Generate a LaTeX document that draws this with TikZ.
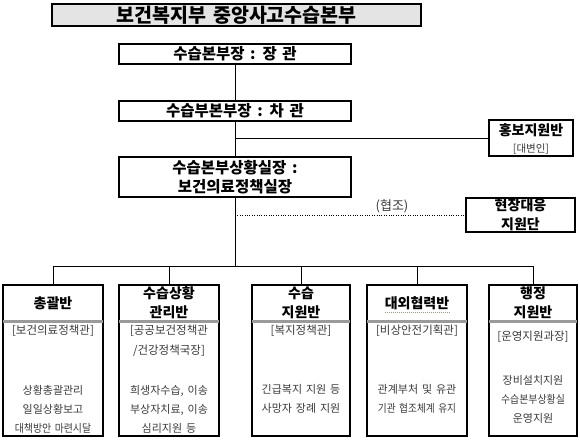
\documentclass[tikz,border=0pt]{standalone}
\usepackage{fontspec}
\setmainfont{Noto Sans CJK KR}[WordSpace=1.6]
\usetikzlibrary{calc}
\definecolor{subgray}{HTML}{3A3A3A}
\definecolor{titlefill}{HTML}{E4E4E4}
\definecolor{divgray}{HTML}{9A9A9A}
\begin{document}
\begin{tikzpicture}[x=1pt,y=-1pt,
  mainbox/.style={draw, line width=1.4pt, minimum width=232pt, minimum height=20pt, inner sep=0pt, font=\fontsize{15.5}{19}\selectfont\bfseries, align=center},
  sidebox/.style={draw, line width=1.4pt, inner sep=0pt, align=center},
  grpbox/.style={draw, line width=1.2pt, minimum height=151pt, inner sep=0pt},
  hdr/.style={inner sep=0pt, font=\fontsize{14}{19}\selectfont\bfseries, align=center},
  brk/.style={inner sep=0pt, text=subgray, font=\fontsize{11.5}{20}\selectfont, align=center},
  bodytxt/.style={inner sep=0pt, text=subgray, font=\fontsize{11}{19}\selectfont, align=center},
  conn/.style={line width=0.9pt},
  coop/.style={line width=0.7pt, dash pattern=on 0.8pt off 1.6pt},
  divider/.style={line width=3pt, divgray},
]
\useasboundingbox (0,0) rectangle (580,439);

% title
\node[draw, line width=1.6pt, fill=titlefill, minimum width=369pt, minimum height=22pt, inner sep=0pt,
      font=\fontsize{19.5}{20}\selectfont\bfseries] (title) at (236.5,15) {보건복지부 중앙사고수습본부};

% chain
\node[mainbox] (b1) at (235,54) {수습본부장 : 장 관};
\node[mainbox] (b2) at (235,111) {수습부본부장 : 차 관};
\node[mainbox, minimum height=40pt] (b3) at (235,177) {수습본부상황실장 :\\보건의료정책실장};

% side boxes
\node[sidebox, minimum width=84pt, minimum height=36pt] (hongbo) at (531,138) {};
\node[hdr] (hongboT) at (531,130) {홍보지원반};
\node[brk, font=\fontsize{10.5}{12}\selectfont] (hongboS) at (531,149) {[대변인]};

\node[sidebox, minimum width=109pt, minimum height=34pt] (hyun) at (520.5,215) {};
\node[hdr] (hyunT) at (520.5,215) {현장대응\\지원단};

\coordinate (hj) at (235,138);
\coordinate (dj) at (235,215);
\coordinate (bus) at (235,266);

\draw[conn] (b1) -- (b2);
\draw[conn] (b2) -- (b3);
\draw[conn] (b3.south) -- (bus);
\draw[conn] (hj) -- (hongbo.west);
\draw[coop] (dj) -- (hyun.west);
\node[inner sep=0pt, font=\fontsize{13}{15}\selectfont, text=subgray] (coopT) at (392,206) {(협조)};

% groups
\node[grpbox, minimum width=100pt] (g1) at (53,360.5) {};
\node[grpbox, minimum width=100pt] (g2) at (169,360.5) {};
\node[grpbox, minimum width=98pt] (g3) at (301,360.5) {};
\node[grpbox, minimum width=100pt] (g4) at (417,360.5) {};
\node[grpbox, minimum width=88pt] (g5) at (533,360.5) {};

\draw[conn] (g1.north) |- (bus);
\draw[conn] (g5.north) |- (bus);
\draw[conn] (g2.north) -- (g2.north |- bus);
\draw[conn] (g3.north) -- (g3.north |- bus);
\draw[conn] (g4.north) -- (g4.north |- bus);

\foreach \g in {g1,g2,g3,g4,g5}{
  \draw[divider] ([yshift=-37pt,xshift=0.6pt]\g.north west) -- ([yshift=-37pt,xshift=-0.6pt]\g.north east);
}

% headers
\node[hdr] (g1h) at (53,303) {총괄반};
\node[hdr] (g2h) at (169,303) {수습상황\\관리반};
\node[hdr] (g3h) at (301,303) {수습\\지원반};
\node[hdr] (g4h) at (417,303) {대외협력반};
\node[hdr] (g5h) at (533,303) {행정\\지원반};
\draw[orange, line width=0.6pt, dash pattern=on 0.8pt off 1.2pt] ([yshift=-2pt]g4h.south west) -- ([yshift=-2pt]g4h.south east);

% bracket lines
\node[brk] (g1b) at (53,331) {[보건의료정책관]};
\node[brk] (g2b) at (169,341) {[공공보건정책관\\/건강정책국장]};
\node[brk] (g3b) at (301,331) {[복지정책관]};
\node[brk] (g4b) at (417,331) {[비상안전기획관]};
\node[brk] (g5b) at (533,337) {[운영지원과장]};

% body lines
\node[bodytxt] (g1t) at (53,409) {상황총괄관리\\일일상황보고\\\scalebox{0.9}[1]{대책방안 마련시달}};
\node[bodytxt] (g2t) at (169,409) {희생자수습, 이송\\부상자치료, 이송\\심리지원 등};
\node[bodytxt] (g3t) at (301,399) {긴급복지 지원 등\\사망자 장례 지원};
\node[bodytxt] (g4t) at (417,399) {관계부처 및 유관\\\scalebox{0.88}[1]{기관 협조체계 유지}};
\node[bodytxt] (g5t) at (533,399) {장비설치지원\\\scalebox{0.9}[1]{수습본부상황실}\\운영지원};
\end{tikzpicture}
\end{document}
